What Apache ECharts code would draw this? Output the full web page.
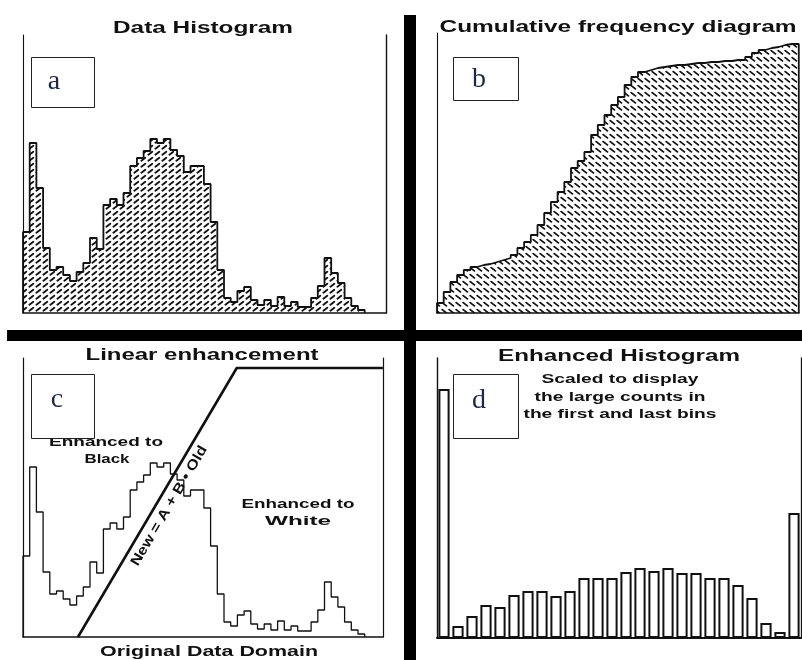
<!DOCTYPE html>
<html><head><meta charset="utf-8">
<script src="https://cdn.jsdelivr.net/npm/echarts@6/dist/echarts.min.js"></script>
<style>html,body{margin:0;padding:0;background:#fff}#c{width:802px;height:660px}</style>
</head><body><div id="c"></div>
<script>
// ---------- data ----------
// Raw data histogram (panels a and c), counts per bin
const binCounts = [81,170,125,65,43,46,38,32,41,50,75,64,108,114,108,120,147,155,162,174,
                   170,174,163,157,141,147,147,129,91,43,15,11,22,26,13,8,13,7,16,7,
                   11,6,6,15,27,55,40,30,15,7,3];
// Cumulative frequency (panel b), per bin
const cumCounts = [10,21,31,38,43,46,48,49,51,53,55,58,65,71,78,88,100,111,121,131,
                   145,152,161,178,188,198,208,216,228,236,241,243,245,246,247,248,248,249,250,250,
                   251,251,252,252,253,253,256,260,263,265,266,268,269,269];
// Linear enhancement function (panel c): old value -> new value
const enhOld = [8.2, 31.9, 53.7];
const enhNew = [0, 269, 269];
// Enhanced histogram (panel d)
const enhBins = ['1','2','3','4','5','6','7','8','9','10','11','12','13','14','15','16','17','18','19','20','21','22','23','24','25','26'];
const enhCounts = [249,12,22,33,31,43,47,47,42,47,60,60,60,66,70,67,70,65,65,60,60,53,40,15,6,125];

// texts
const titles = ['Data Histogram','Cumulative frequency diagram','Linear enhancement','Enhanced Histogram'];
const panelLetters = ['a','b','c','d'];
const subLines = ['Scaled to display','the large counts in','the first and last bins'];

// ---------- helpers ----------
function stepPts(vals){ const p=[[0,0]]; vals.forEach((v,i)=>p.push([i,v])); p.push([vals.length,0]); return p; }
function pattern(draw,w,h){ const cv=document.createElement('canvas'); cv.width=w; cv.height=h; const g=cv.getContext('2d'); draw(g); return {image:cv, repeat:'repeat'}; }
const hatchA = pattern(g=>{g.strokeStyle='#111';g.lineWidth=1.8;g.lineCap='round';g.beginPath();g.moveTo(1.4,4.8);g.lineTo(5.3,1.8);g.stroke();},7,6);
const hatchB = pattern(g=>{g.strokeStyle='#111';g.lineWidth=1.8;g.lineCap='round';g.beginPath();g.moveTo(1.2,1.6);g.lineTo(5.4,4.9);g.stroke();},7,7);
const mctx = document.createElement('canvas').getContext('2d');
const FAM = '"Liberation Sans", Arial, sans-serif';
function label(text,cx,cy,size,weight,w,extra){
  const font = weight+' '+size+'px '+FAM;
  mctx.font = font;
  const s = w ? w / mctx.measureText(text).width : 1;
  return Object.assign({type:'text', x:cx, y:cy, scaleX:s, z:90,
    style:{text:text, font:font, fill:'#111', textAlign:'center', textVerticalAlign:'middle'}}, extra||{});
}
const axLine = (w)=>({show:true,onZero:false,lineStyle:{color:'#111',width:w}});
const hidden = {axisTick:{show:false},axisLabel:{show:false},splitLine:{show:false}};

const chart = echarts.init(document.getElementById('c'));
chart.setOption({
  animation:false,
  backgroundColor:'#fff',
  grid:[
    {left:23, top:35, width:363, height:278},
    {left:437, top:33, width:362, height:280},
    {left:23, top:358, width:360, height:279},
    {left:437, top:358, width:364, height:280}
  ],
  xAxis:[
    Object.assign({type:'value', gridIndex:0, min:0, max:54.18, axisLine:axLine(1.6)},hidden),
    Object.assign({type:'value', gridIndex:1, min:0, max:54.03, axisLine:axLine(1.6)},hidden),
    Object.assign({type:'value', gridIndex:2, min:0, max:53.73, axisLine:axLine(1.6)},hidden),
    Object.assign({type:'category', gridIndex:3, data:enhBins, axisLine:axLine(2)},hidden)
  ],
  yAxis:[
    Object.assign({type:'value', gridIndex:0, min:0, max:278, axisLine:axLine(1.1)},hidden),
    Object.assign({type:'value', gridIndex:0, min:0, max:278, position:'right', axisLine:axLine(1.4)},hidden),
    Object.assign({type:'value', gridIndex:1, min:0, max:280, axisLine:axLine(1.1)},hidden),
    Object.assign({type:'value', gridIndex:2, min:0, max:279, axisLine:axLine(1.2)},hidden),
    Object.assign({type:'value', gridIndex:2, min:0, max:279, position:'right', axisLine:axLine(1.2)},hidden),
    Object.assign({type:'value', gridIndex:3, min:0, max:280, axisLine:axLine(1.4)},hidden),
    Object.assign({type:'value', gridIndex:3, min:0, max:280, position:'right', axisLine:axLine(1.3)},hidden)
  ],
  series:[
    {type:'line', xAxisIndex:0, yAxisIndex:0, step:'end', data:stepPts(binCounts), symbol:'none',
     lineStyle:{color:'#111',width:1.8}, areaStyle:{color:hatchA, opacity:1}},
    {type:'line', xAxisIndex:1, yAxisIndex:2, step:'end', data:stepPts(cumCounts), symbol:'none',
     lineStyle:{color:'#111',width:1.8}, areaStyle:{color:hatchB, opacity:1}},
    {type:'line', xAxisIndex:2, yAxisIndex:3, step:'end', data:stepPts(binCounts), symbol:'none',
     lineStyle:{color:'#111',width:1.3}},
    {type:'line', xAxisIndex:2, yAxisIndex:3, data:enhOld.map((v,i)=>[v,enhNew[i]]), symbol:'none',
     lineStyle:{color:'#111',width:2.6}},
    {type:'bar', xAxisIndex:3, yAxisIndex:5, data:enhCounts, barWidth:11.2,
     itemStyle:{color:'#fff', borderColor:'#111', borderWidth:2}}
  ]
});

// ---------- annotations ----------
const p1 = chart.convertToPixel({xAxisIndex:2,yAxisIndex:3},[enhOld[0],enhNew[0]]);
const p2 = chart.convertToPixel({xAxisIndex:2,yAxisIndex:3},[enhOld[1],enhNew[1]]);
const dx=p2[0]-p1[0], dy=p2[1]-p1[1], L=Math.hypot(dx,dy);
const nx=-dy/L, ny=dx/L;
const mx=p1[0]+0.51*dx+12*nx, my=p1[1]+0.51*dy+12*ny;
const rot=Math.atan2(-dy,dx);

const boxes=[[31,57,63,50],[453,57,65,43],[31,374,63,64],[453,374,65,64]];
const letterPos=[[54,82],[479,80],[57,400],[479,401]];
const els=[
  {type:'rect', shape:{x:404,y:15,width:12,height:645}, style:{fill:'#000'}, z:95},
  {type:'rect', shape:{x:7,y:330,width:795,height:11}, style:{fill:'#000'}, z:95},
  label(titles[0],203,28,17,'bold',180),
  label(titles[1],618,27,17,'bold',357),
  label(titles[2],202,355,17,'bold',233),
  label(titles[3],619,356,17,'bold',242),
  label(subLines[0],620,379,13.5,'bold',157),
  label(subLines[1],620,397,13.5,'bold',171),
  label(subLines[2],620,414,13.5,'bold',193),
  label('Enhanced to',106,443,12.5,'bold',114),
  label('Black',107,460,12.5,'bold',45),
  label('Enhanced to',298,505,12.5,'bold',113),
  label('White',298,522,12.5,'bold',66),
  label('Original Data Domain',209,652,15,'bold',218),
  label('New = A + B \u2022 Old',mx,my,14,'bold',137,{rotation:rot})
];
boxes.forEach((b,i)=>{
  els.push({type:'rect', shape:{x:b[0]+0.5,y:b[1]+0.5,width:b[2],height:b[3]}, style:{fill:'#fff',stroke:'#222',lineWidth:1}, z:100});
  els.push({type:'text', x:letterPos[i][0], y:letterPos[i][1], z:101,
    style:{text:panelLetters[i], font:'normal 28px "Liberation Serif", "Times New Roman", serif', fill:'#1e2846', textAlign:'center', textVerticalAlign:'middle'}});
});
chart.setOption({graphic:{elements:els}});
</script>
</body></html>
